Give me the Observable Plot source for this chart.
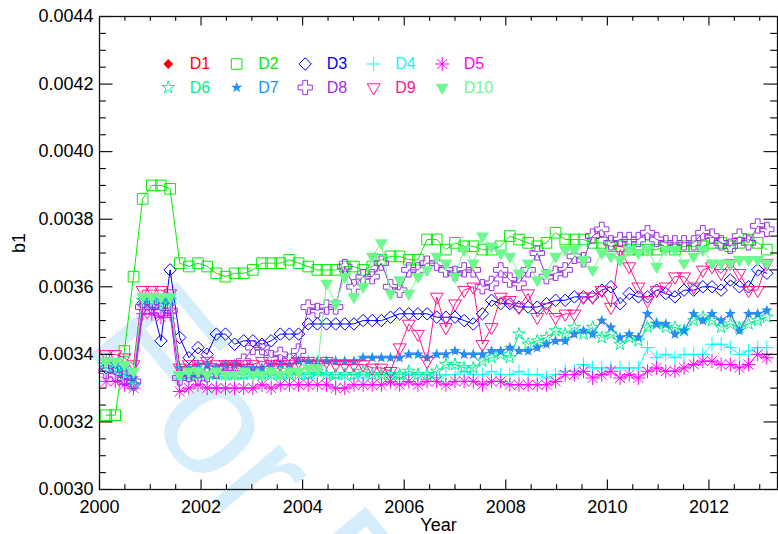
<!DOCTYPE html>
<html>
<head>
<meta charset="utf-8">
<script src="https://cdn.jsdelivr.net/npm/d3@7"></script>
<script src="https://cdn.jsdelivr.net/npm/@observablehq/plot@0.6"></script>
<style>
  html, body { margin: 0; padding: 0; background: #fff; }
  #chart svg { display: block; font-family: "Liberation Sans", Arial, Helvetica, sans-serif; }
</style>
</head>
<body>
<div id="chart"></div>
<script>
// ---- Data ----
const times = [2000.13,2000.31,2000.49,2000.67,2000.85,2001.03,2001.21,2001.39,
  2001.58,2001.76,2001.94,2002.12,2002.30,2002.48,2002.66,2002.84,2003.02,2003.20,
  2003.38,2003.56,2003.74,2003.92,2004.11,2004.29,2004.47,2004.65,2004.83,2005.01,
  2005.19,2005.37,2005.55,2005.73,2005.91,2006.09,2006.27,2006.45,2006.64,2006.82,
  2007.00,2007.18,2007.36,2007.54,2007.72,2007.90,2008.08,2008.26,2008.44,2008.62,
  2008.80,2008.98,2009.17,2009.35,2009.53,2009.71,2009.89,2010.07,2010.25,2010.43,
  2010.61,2010.79,2010.97,2011.15,2011.33,2011.51,2011.70,2011.88,2012.06,2012.24,
  2012.42,2012.60,2012.78,2012.96,2013.14];

const seriesNames = ["D1","D2","D3","D4","D5","D6","D7","D8","D9","D10"];

const d1 = [0.00338,0.00338,0.00337,0.00335,0.00357,0.00357,0.00357,0.00357,
  0.00336,0.00336,0.00337,0.00337,0.00336,0.00337,0.00337,0.00336,0.00336,0.00336,0.00337,0.00337,0.00337,0.00338,
  0.00338,0.00338,0.00338,0.00338,0.00338,0.00338,0.00339,0.00339,0.00339,0.00339,0.00339,0.00340,0.00340,0.00339,
  0.00340,0.00340,0.00341,0.00340,0.00340,0.00340,0.00341,0.00341,0.00342,0.00341,0.00341,0.00342,0.00343,0.00344,
  0.00344,0.00346,0.00347,0.00346,0.00350,0.00348,0.00345,0.00346,0.00345,0.00352,0.00349,0.00349,0.00346,0.00347,
  0.00352,0.00350,0.00352,0.00350,0.00352,0.00347,0.00352,0.00352,0.00353];

const d2 = [0.00322,0.00322,0.00341,0.00363,0.00386,0.00390,0.00390,0.00389,
  0.00367,0.00366,0.00367,0.00366,0.00364,0.00363,0.00364,0.00364,0.00365,0.00367,0.00367,0.00367,0.00368,0.00367,
  0.00366,0.00365,0.00365,0.00365,0.00366,0.00366,0.00365,0.00366,0.00368,0.00369,0.00369,0.00368,0.00368,0.00374,
  0.00374,0.00371,0.00373,0.00372,0.00372,0.00371,0.00371,0.00372,0.00375,0.00374,0.00373,0.00372,0.00373,0.00376,
  0.00374,0.00374,0.00374,0.00373,0.00373,0.00372,0.00372,0.00371,0.00371,0.00371,0.00371,0.00372,0.00371,0.00372,
  0.00372,0.00372,0.00373,0.00373,0.00372,0.00373,0.00374,0.00373,0.00371];

const d3v = [0.00336,0.00336,0.00334,0.00331,0.00355,0.00355,0.00344,0.00365,
  0.00345,0.00339,0.00342,0.00340,0.00346,0.00346,0.00343,0.00344,0.00344,0.00343,0.00344,0.00346,0.00346,0.00346,
  0.00349,0.00349,0.00349,0.00349,0.00349,0.00349,0.00350,0.00350,0.00350,0.00351,0.00352,0.00352,0.00352,0.00352,
  0.00351,0.00351,0.00351,0.00350,0.00349,0.00352,0.00356,0.00355,0.00355,0.00354,0.00354,0.00354,0.00355,0.00356,
  0.00356,0.00357,0.00357,0.00357,0.00359,0.00360,0.00355,0.00358,0.00357,0.00357,0.00359,0.00358,0.00357,0.00359,
  0.00359,0.00360,0.00360,0.00359,0.00362,0.00360,0.00360,0.00365,0.00364];

const d4 = [0.00336,0.00335,0.00334,0.00331,0.00355,0.00356,0.00355,0.00355,
  0.00333,0.00333,0.00334,0.00333,0.00333,0.00334,0.00333,0.00333,0.00334,0.00333,0.00334,0.00333,0.00334,
  0.00334,0.00333,0.00334,0.00334,0.00333,0.00334,0.00334,0.00333,0.00334,0.00334,0.00334,0.00333,0.00334,0.00334,
  0.00334,0.00333,0.00334,0.00334,0.00335,0.00334,
  0.00334,0.00335,0.00334,0.00334,0.00335,0.00334,0.00334,0.00333,
  0.00334,0.00335,0.00335,0.00337,0.00336,0.00336,0.00336,0.00336,0.00336,0.00336,0.00342,0.00339,0.00340,0.00339,
  0.00340,0.00340,0.00340,0.00343,0.00343,0.00342,0.00340,0.00341,0.00342,0.00342];

const d5 = [0.00332,0.00332,0.00331,0.00330,0.00352,0.00352,0.00351,0.00352,
  0.00329,0.00330,0.00331,0.00330,0.00330,0.00330,0.00330,0.00330,0.00330,0.00331,0.00330,0.00331,0.00331,0.00331,
  0.00331,0.00331,0.00331,0.00330,0.00330,0.00331,0.00331,0.00331,0.00331,0.00332,0.00331,0.00332,0.00331,0.00332,
  0.00332,0.00331,0.00332,0.00332,0.00332,0.00331,0.00332,0.00332,0.00331,0.00331,0.00331,0.00331,0.00331,
  0.00332,0.00334,0.00334,0.00335,0.00333,0.00334,0.00335,0.00333,0.00334,0.00333,0.00335,0.00336,0.00335,0.00335,
  0.00336,0.00337,0.00338,0.00338,0.00337,0.00337,0.00336,0.00337,0.00340,0.00339];

const d6 = [0.00337,0.00336,0.00335,0.00331,0.00356,0.00356,0.00355,0.00356,
  0.00334,0.00334,0.00334,0.00335,0.00334,0.00334,0.00334,0.00334,0.00335,0.00334,0.00334,0.00334,0.00334,0.00334,
  0.00334,0.00335,0.00334,0.00334,0.00334,0.00334,0.00335,0.00334,0.00334,0.00334,0.00334,0.00335,0.00334,0.00334,
  0.00335,0.00337,0.00337,0.00336,0.00336,0.00338,0.00339,0.00340,0.00339,0.00346,0.00343,0.00344,0.00345,0.00347,
  0.00346,0.00348,0.00346,0.00348,0.00345,0.00346,0.00343,0.00345,0.00344,0.00348,0.00349,0.00348,0.00348,0.00347,
  0.00350,0.00351,0.00350,0.00348,0.00349,0.00348,0.00349,0.00350,0.00351];

const d7 = [0.00338,0.00337,0.00336,0.00333,0.00356,0.00357,0.00356,0.00356,
  0.00336,0.00336,0.00337,0.00337,0.00336,0.00337,0.00337,0.00336,0.00336,0.00336,0.00337,0.00337,0.00337,0.00338,
  0.00338,0.00338,0.00338,0.00338,0.00338,0.00338,0.00339,0.00339,0.00339,0.00339,0.00339,0.00340,0.00340,0.00339,
  0.00340,0.00340,0.00341,0.00340,0.00340,0.00340,0.00341,0.00341,0.00342,0.00341,0.00341,0.00342,0.00343,0.00344,
  0.00344,0.00346,0.00347,0.00346,0.00350,0.00348,0.00345,0.00346,0.00345,0.00352,0.00349,0.00349,0.00346,0.00347,
  0.00352,0.00350,0.00352,0.00350,0.00352,0.00347,0.00352,0.00352,0.00353];

const d8 = [0.00335,0.00334,0.00333,0.00332,0.00354,0.00354,0.00353,0.00353,
  0.00333,0.00334,0.00333,0.00334,0.00335,0.00336,0.00336,0.00338,0.00342,0.00342,0.00339,0.00340,0.00338,0.00341,
  0.00354,0.00353,0.00354,0.00354,0.00366,0.00360,0.00363,0.00363,0.00367,0.00360,0.00359,0.00365,0.00365,0.00367,
  0.00367,0.00365,0.00364,0.00365,0.00365,0.00360,0.00361,0.00365,0.00362,0.00361,0.00365,0.00370,0.00363,0.00364,
  0.00365,0.00369,0.00368,0.00375,0.00377,0.00373,0.00374,0.00374,0.00374,0.00376,0.00374,0.00373,0.00373,0.00373,
  0.00373,0.00376,0.00375,0.00373,0.00372,0.00375,0.00373,0.00378,0.00377];

const d9 = [0.00340,0.00340,0.00339,0.00337,0.00359,0.00359,0.00359,0.00358,
  0.00336,0.00337,0.00337,0.00338,0.00337,0.00337,0.00337,0.00337,0.00337,0.00338,0.00337,0.00337,0.00337,0.00338,
  0.00338,0.00337,0.00338,0.00337,0.00337,0.00337,0.00337,0.00336,0.00336,0.00335,
  0.00342,0.00349,0.00346,0.00338,0.00357,0.00348,0.00355,0.00359,0.00360,0.00343,0.00348,0.00357,0.00356,0.00354,
  0.00358,0.00351,0.00354,0.00351,0.00352,0.00352,0.00357,0.00357,0.00359,0.00354,0.00371,0.00366,0.00360,0.00356,
  0.00359,0.00360,0.00363,0.00363,0.00360,0.00365,0.00366,0.00364,0.00367,0.00364,0.00359,0.00359,0.00367];

const d10 = [0.00338,0.00338,0.00337,0.00335,0.00357,0.00357,0.00357,0.00357,
  0.00334,0.00335,0.00335,0.00334,0.00335,0.00334,0.00334,0.00335,0.00334,0.00334,0.00335,0.00334,0.00335,0.00335,
  0.00336,0.00336,
  0.00361,0.00355,0.00363,0.00357,0.00360,0.00369,0.00373,0.00358,0.00362,0.00358,0.00363,0.00365,0.00369,0.00367,
  0.00363,0.00371,0.00367,0.00375,0.00372,0.00370,0.00369,0.00364,0.00367,0.00362,0.00364,0.00369,0.00371,0.00371,
  0.00368,0.00365,0.00370,0.00369,0.00368,0.00371,0.00370,0.00371,0.00366,0.00371,0.00371,0.00367,0.00369,0.00371,
  0.00367,0.00367,0.00367,0.00368,0.00368,0.00368,0.00367];

const xTickValues = [2000, 2002, 2004, 2006, 2008, 2010, 2012];
const yTickValues = [0.0030, 0.0032, 0.0034, 0.0036, 0.0038, 0.0040, 0.0042, 0.0044];

// ---- Styles ----
const asterisk = {
  draw(context, size) {
    const r = Math.sqrt(size / Math.PI);
    const a = r * Math.SQRT1_2;
    context.moveTo(-r, 0); context.lineTo(r, 0);
    context.moveTo(0, -r); context.lineTo(0, r);
    context.moveTo(-a, -a); context.lineTo(a, a);
    context.moveTo(-a, a); context.lineTo(a, -a);
  }
};

const valuesList = [d1, d2, d3v, d4, d5, d6, d7, d8, d9, d10];
const styles = [
  {color: "#ff0000", symbol: "diamond2", r: 3.0, legendR: 4.4, filled: true},
  {color: "#00ee00", symbol: "square",   r: 6.0, filled: false},
  {color: "#0000ff", symbol: "diamond2", r: 5.6, filled: false},
  {color: "#00ffff", symbol: "plus",     r: 4.6, filled: false},
  {color: "#ff00ff", symbol: asterisk,   r: 7.0, filled: false},
  {color: "#00f08c", symbol: "star",     r: 3.9, filled: false},
  {color: "#1e90ff", symbol: "star",     r: 3.6, filled: true},
  {color: "#9b30e0", symbol: "cross",    r: 6.0, filled: false},
  {color: "#ff1493", symbol: "triangle", r: 4.8, filled: false, rotate: 180},
  {color: "#70f890", symbol: "triangle", r: 4.8, filled: true, rotate: 180}
];

const series = seriesNames.map((name, k) => ({
  name, ...styles[k],
  data: valuesList[k].map((v, i) => ({t: times[i], v}))
}));

// ---- Layout ----
const W = 778, H = 534;
const mL = 99, mR = 1, mT = 16, mB = 45;
const fw = W - mL - mR, fh = H - mT - mB;
const font = "Liberation Sans, Arial, Helvetica, sans-serif";

function dotStyle(s) {
  return s.filled
    ? {fill: s.color, stroke: "none"}
    : {fill: "none", stroke: s.color, strokeWidth: 1};
}

const marks = [];

// watermark behind everything
marks.push(Plot.text(["For Review Only"], {
  frameAnchor: "top-left", dx: -18, dy: 328, text: d => d,
  rotate: 50, fontSize: 165, fill: "#d6eefb", textAnchor: "start",
  lineAnchor: "bottom", fontFamily: font
}));

// series
for (const s of series) {
  marks.push(Plot.line(s.data, {x: "t", y: "v", stroke: s.color, strokeWidth: 1}));
  marks.push(Plot.dot(s.data, {x: "t", y: "v", symbol: s.symbol, r: s.r,
    rotate: s.rotate || 0, ...dotStyle(s)}));
}

// legend (inside plot frame)
series.forEach((s, k) => {
  const col = k % 5, row = Math.floor(k / 5);
  const dx = 68.7 + col * 68.5, dy = 47.5 + row * 23.5;
  marks.push(Plot.dot([0], {frameAnchor: "top-left", dx, dy, symbol: s.symbol,
    r: s.legendR || s.r, rotate: s.rotate || 0, ...dotStyle(s)}));
  marks.push(Plot.text([s.name], {frameAnchor: "top-left", dx: dx + 21.5, dy,
    text: d => d, fill: s.color, fontSize: 16, textAnchor: "start",
    lineAnchor: "middle", fontFamily: font}));
});

// frame and IDL-style inward ticks on all four sides
const xMinor = d3.range(2000, 2013.5, 0.5).filter(v => !xTickValues.includes(v));
const yMinor = d3.range(30, 44.01, 0.5).map(v => +(v / 10000).toFixed(5))
  .filter(v => !yTickValues.some(t => Math.abs(t - v) < 1e-9));
const tk = {stroke: "#000", strokeWidth: 1.1};
marks.push(
  Plot.tickX(xTickValues, {x: d => d, insetTop: fh - 9.5, ...tk}),
  Plot.tickX(xMinor, {x: d => d, insetTop: fh - 4.7, ...tk}),
  Plot.tickX(xTickValues, {x: d => d, insetBottom: fh - 9.5, ...tk}),
  Plot.tickX(xMinor, {x: d => d, insetBottom: fh - 4.7, ...tk}),
  Plot.tickY(yTickValues, {y: d => d, insetRight: fw - 13.5, ...tk}),
  Plot.tickY(yMinor, {y: d => d, insetRight: fw - 6.8, ...tk}),
  Plot.tickY(yTickValues, {y: d => d, insetLeft: fw - 13.5, ...tk}),
  Plot.tickY(yMinor, {y: d => d, insetLeft: fw - 6.8, ...tk}),
  Plot.frame({stroke: "#111", strokeWidth: 1.3}),
  Plot.axisX(xTickValues, {anchor: "bottom", tickSize: 0, tickPadding: 11,
    tickFormat: d => String(d), fontSize: 18, label: null, fill: "#000"}),
  Plot.axisY(yTickValues, {anchor: "left", tickSize: 0, tickPadding: 6,
    tickFormat: d => d.toFixed(4), fontSize: 18, label: null, fill: "#000"}),
  Plot.text(["Year"], {frameAnchor: "bottom", dy: 36, text: d => d,
    fontSize: 18, fill: "#000", lineAnchor: "middle", fontFamily: font}),
  Plot.text(["b1"], {frameAnchor: "left", dx: -80.5, text: d => d, rotate: -90,
    fontSize: 18, fill: "#000", lineAnchor: "middle", fontFamily: font})
);

const chart = Plot.plot({
  width: W, height: H,
  marginLeft: mL, marginRight: mR, marginTop: mT, marginBottom: mB,
  style: {fontFamily: font, background: "#fff", overflow: "visible"},
  x: {domain: [2000, 2013.35], axis: null},
  y: {domain: [0.0030, 0.0044], axis: null},
  marks
});
document.getElementById("chart").appendChild(chart);
</script>
</body>
</html>
